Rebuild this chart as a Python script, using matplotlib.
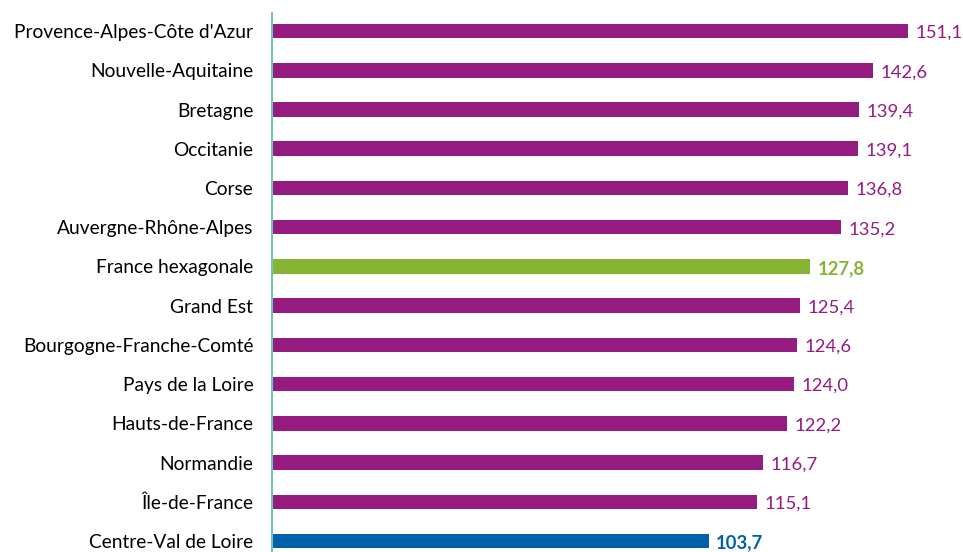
import matplotlib.pyplot as plt
import numpy as np

plt.rcParams['font.family'] = ['Lato', 'DejaVu Sans']

# Data
regions = ['Provence-Alpes-Côte d\'Azur', 'Nouvelle-Aquitaine', 'Bretagne', 'Occitanie',
           'Corse', 'Auvergne-Rhône-Alpes', 'France hexagonale', 'Grand Est',
           'Bourgogne-Franche-Comté', 'Pays de la Loire', 'Hauts-de-France',
           'Normandie', 'Île-de-France', 'Centre-Val de Loire']
values = [151.1, 142.6, 139.4, 139.1, 136.8, 135.2, 127.8, 125.4,
          124.6, 124.0, 122.2, 116.7, 115.1, 103.7]

purple = '#951B81'
green = '#86B535'
blue = '#0061AA'

colors = []
for r in regions:
    if r == 'France hexagonale':
        colors.append(green)
    elif r == 'Centre-Val de Loire':
        colors.append(blue)
    else:
        colors.append(purple)

fig = plt.figure(figsize=(9.63, 5.52), dpi=100)
ax = fig.add_axes([0.2825, 0.0, 0.99 - 0.2825, 0.9764])

y = np.arange(len(regions))
ax.barh(y, values, height=0.37, color=colors)

ax.set_xlim(0, 161.8)
ax.set_ylim(len(regions) - 1 + 0.28, -0.46)

ax.set_yticks(y)
ax.set_yticklabels(regions, fontsize=13.8, color='#000000')
ax.tick_params(axis='y', length=0, pad=13.5)
ax.set_xticks([])

for s in ['top', 'right', 'bottom']:
    ax.spines[s].set_visible(False)
ax.spines['left'].set_color('#72C7B1')
ax.spines['left'].set_linewidth(1.5)

# Value labels
for yi, v, c in zip(y, values, colors):
    bold = c != purple
    ax.text(v + 1.8, yi + 0.05, f'{v:.1f}'.replace('.', ','), va='center', ha='left',
            fontsize=13.3, color=c, fontweight='bold' if bold else 'normal')

fig.savefig('out.png', dpi=100)
